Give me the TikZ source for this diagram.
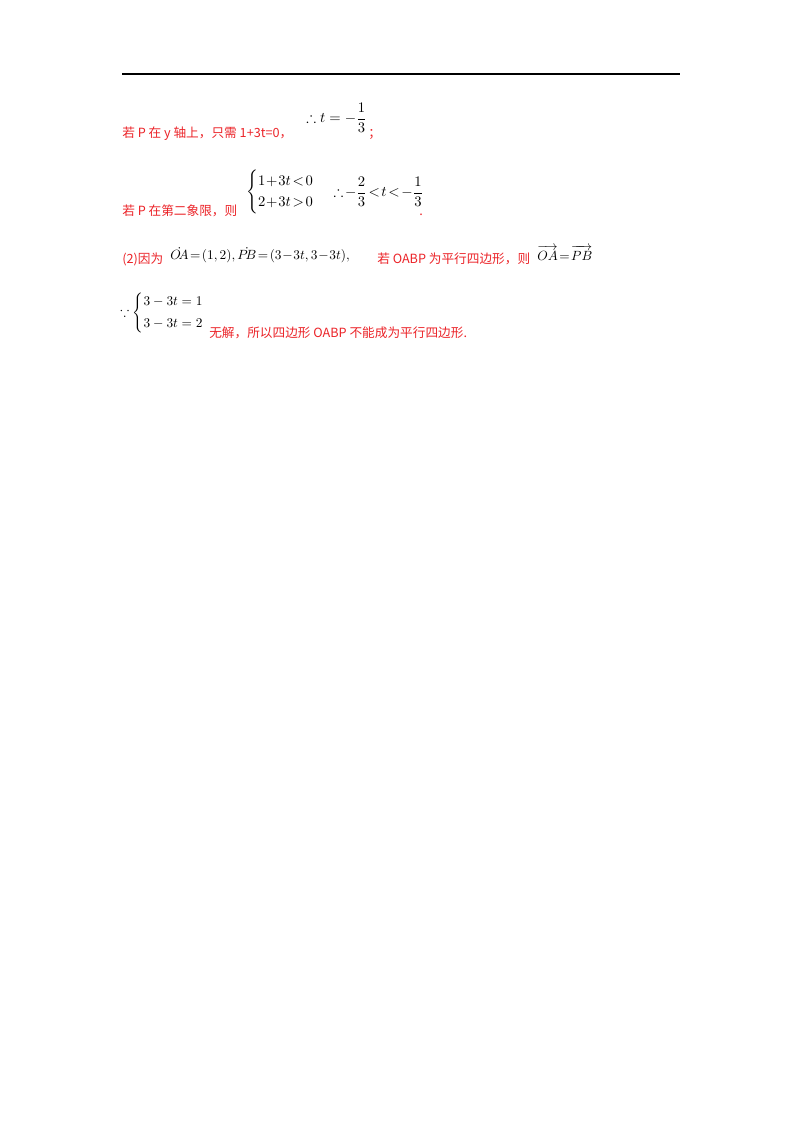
\documentclass[tikz,border=0pt]{standalone}
\usepackage{amsmath,amssymb}
\usepackage{fontspec}
\setmainfont{Liberation Serif}
\newfontfamily\cjk{Noto Sans CJK SC}
\usepackage{xcolor}
\usetikzlibrary{positioning}
\definecolor{solred}{RGB}{235,35,40}

\begin{document}
\begin{tikzpicture}[
  x=0.75pt, y=-0.75pt,
  redtxt/.style={text=solred, font=\cjk\fontsize{9.5}{11}\selectfont, inner sep=0pt, anchor=base west},
  mathtxt/.style={font=\fontsize{11}{13}\selectfont, inner sep=0pt, anchor=west},
  smallmath/.style={font=\fontsize{10}{12}\selectfont, inner sep=0pt, anchor=west}
]
\useasboundingbox (0,0) rectangle (800,1132);

% Kopflinie
\draw[line width=1.2pt] (122,74) -- (680,74);

% Zeile 1
\node[redtxt] (yaxis) at (122,137) {若 P 在 y 轴上，只需 1+3t=0，};
\node[mathtxt] (tval) at (306,118) {$\therefore t=-\dfrac{1}{3}$};
\node[redtxt] (semi) at (368,137) {；};

% Zeile 2
\node[redtxt] (quad) at (122,215) {若 P 在第二象限，则};
\node[mathtxt] (ineq) at (246,192) {$\begin{cases}1\!+\!3t\!<\!0\\ 2\!+\!3t\!>\!0\end{cases}$};
\node[mathtxt, right=3pt of ineq] (trange) {$\therefore\!-\dfrac{2}{3}\!<\!t\!<\!-\dfrac{1}{3}$};
\node[redtxt] (dot) at (419,215) {.};

% Zeile 3
\node[redtxt] (part2) at (122,263) {(2)因为};
\node[smallmath] (vecs) at (170,255) {$\dot{O\!A}\!=\!(1,2),\dot{P\!B}\!=\!(3\!-\!3t,3\!-\!3t),$};
\node[redtxt] (para) at (377,263) {若 OABP 为平行四边形，则};
\node[smallmath] (equal) at (537,253) {$\overrightarrow{OA}\!=\!\overrightarrow{PB}$};

% Zeile 4
\node[smallmath] (sys) at (120,313) {$\because\begin{cases}3-3t=1\\[2pt] 3-3t=2\end{cases}$};
\node[redtxt] (nosol) at (209,337) {无解，所以四边形 OABP 不能成为平行四边形.};
\end{tikzpicture}
\end{document}
